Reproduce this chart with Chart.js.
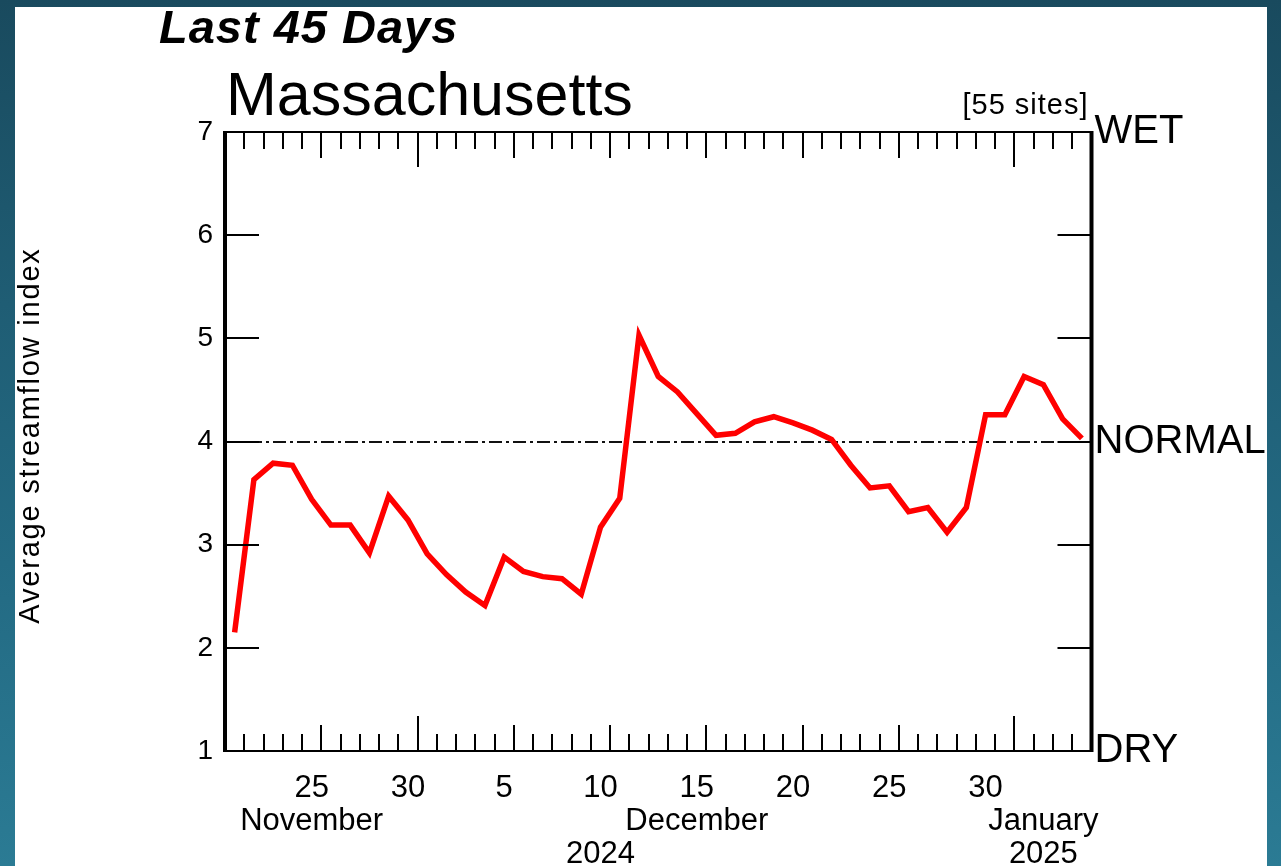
<!DOCTYPE html>
<html lang="en">
<head>
  <meta charset="UTF-8">
  <title>Last 45 Days - Massachusetts streamflow</title>
  <script src="https://cdn.jsdelivr.net/npm/chart.js"></script>
  <style>
    html, body {
      margin: 0;
      width: 1281px;
      height: 866px;
      overflow: hidden;
      background: linear-gradient(to bottom, #194a5e 0%, #1f5d74 35%, #236a83 65%, #2b7b94 100%);
    }
    #panel {
      position: absolute;
      left: 15px;
      top: 7px;
      width: 1252px;
      height: 859px;
      background: #fff;
    }
    #streamChart {
      position: absolute;
      left: 0;
      top: 0;
    }
  </style>
</head>
<body>
  <div id="panel"></div>
  <canvas id="streamChart" width="1281" height="866"></canvas>

  <script>
    // one value per day, 21 Nov 2024 -> 4 Jan 2025
    const dates = [
      'Nov 21', 'Nov 22', 'Nov 23', 'Nov 24', 'Nov 25', 'Nov 26', 'Nov 27', 'Nov 28', 'Nov 29', 'Nov 30',
      'Dec 1', 'Dec 2', 'Dec 3', 'Dec 4', 'Dec 5', 'Dec 6', 'Dec 7', 'Dec 8', 'Dec 9', 'Dec 10',
      'Dec 11', 'Dec 12', 'Dec 13', 'Dec 14', 'Dec 15', 'Dec 16', 'Dec 17', 'Dec 18', 'Dec 19', 'Dec 20',
      'Dec 21', 'Dec 22', 'Dec 23', 'Dec 24', 'Dec 25', 'Dec 26', 'Dec 27', 'Dec 28', 'Dec 29', 'Dec 30',
      'Dec 31', 'Jan 1', 'Jan 2', 'Jan 3', 'Jan 4'
    ];
    const streamflowIndex = [
      2.15, 3.63, 3.79, 3.77, 3.44, 3.19, 3.19, 2.92, 3.47, 3.24,
      2.91, 2.71, 2.54, 2.41, 2.88, 2.74, 2.69, 2.67, 2.52, 3.17,
      3.45, 5.03, 4.63, 4.48, 4.27, 4.06, 4.08, 4.19, 4.24, 4.18,
      4.11, 4.02, 3.77, 3.55, 3.57, 3.32, 3.36, 3.12, 3.36, 4.26,
      4.26, 4.63, 4.55, 4.22, 4.03
    ];

    // extra lines under the day numbers
    const monthLabels = { 'Nov 25': 'November', 'Dec 15': 'December', 'Jan 2': 'January' };
    const yearLabels = { 'Dec 10': '2024', 'Jan 2': '2025' };

    // right hand axis
    const sideLevels = [1, 4, 7];
    const sideLabels = ['DRY', 'NORMAL', 'WET'];
    const normalLevel = 4;

    const titleText = 'Last 45 Days';
    const stateName = 'Massachusetts';
    const siteCount = '[55 sites]';
    const yTitle = 'Average streamflow index';

    const FONT = "'Liberation Sans', Arial, Helvetica, sans-serif";
    Chart.defaults.font.family = FONT;
    Chart.defaults.color = '#000';

    function dayOf(label) {
      return parseInt(label.split(' ')[1], 10);
    }

    // frame, inward ticks, normal line and header texts
    const framePlugin = {
      id: 'frame',
      beforeDatasetsDraw(chart) {
        const { ctx, chartArea: a, scales } = chart;
        const yn = Math.round(scales.y.getPixelForValue(normalLevel));
        ctx.save();
        ctx.strokeStyle = '#111';
        ctx.lineWidth = 2;
        ctx.setLineDash([13, 4, 3, 4]);
        ctx.beginPath();
        ctx.moveTo(a.left, yn);
        ctx.lineTo(a.right, yn);
        ctx.stroke();
        ctx.restore();
      },
      afterDatasetsDraw(chart) {
        const { ctx, chartArea: a, scales } = chart;
        const x = scales.x, y = scales.y;
        ctx.save();
        ctx.strokeStyle = '#000';
        ctx.lineWidth = 2;

        // day boundaries along top and bottom
        const band = x.getPixelForValue(1) - x.getPixelForValue(0);
        const x0 = x.getPixelForValue(0) - band / 2;
        ctx.beginPath();
        for (let k = 1; k < dates.length; k++) {
          const bx = Math.round(x0 + k * band);
          const prev = dayOf(dates[k - 1]);
          let len = 17;
          if (dayOf(dates[k]) === 1) len = 35;
          else if (prev % 5 === 0 && prev < 30) len = 26;
          ctx.moveTo(bx, a.top);
          ctx.lineTo(bx, a.top + len);
          ctx.moveTo(bx, a.bottom);
          ctx.lineTo(bx, a.bottom - len);
        }
        // integer ticks on both sides
        y.ticks.forEach(t => {
          if (t.value <= y.min || t.value >= y.max) return;
          const py = Math.round(y.getPixelForValue(t.value));
          ctx.moveTo(a.left, py);
          ctx.lineTo(a.left + 34, py);
          ctx.moveTo(a.right - 34, py);
          ctx.lineTo(a.right, py);
        });
        ctx.stroke();

        // box
        ctx.beginPath();
        ctx.moveTo(a.left, a.top);
        ctx.lineTo(a.right, a.top);
        ctx.moveTo(a.left, a.bottom);
        ctx.lineTo(a.right, a.bottom);
        ctx.stroke();
        ctx.lineWidth = 4;
        ctx.beginPath();
        ctx.moveTo(a.left, a.top - 1);
        ctx.lineTo(a.left, a.bottom + 1);
        ctx.moveTo(a.right, a.top - 1);
        ctx.lineTo(a.right, a.bottom + 1);
        ctx.stroke();
        ctx.restore();
      },
      afterDraw(chart) {
        const { ctx, chartArea: a } = chart;
        ctx.save();
        ctx.fillStyle = '#000';
        ctx.textBaseline = 'alphabetic';

        ctx.font = 'italic bold 47px ' + FONT;
        ctx.letterSpacing = '1px';
        ctx.textAlign = 'left';
        ctx.fillText(titleText, 159, 43);

        ctx.letterSpacing = '0px';
        ctx.font = '61px ' + FONT;
        ctx.fillText(stateName, a.left + 1, 115);

        ctx.font = '29px ' + FONT;
        ctx.letterSpacing = '1px';
        ctx.textAlign = 'right';
        ctx.fillText(siteCount, a.right - 3, 114);

        // rotated axis title
        ctx.translate(39, (a.top + a.bottom) / 2 - 6);
        ctx.rotate(-Math.PI / 2);
        ctx.font = '29px ' + FONT;
        ctx.letterSpacing = '1.8px';
        ctx.textAlign = 'center';
        ctx.fillText(yTitle, 0, 0);
        ctx.restore();
      }
    };

    const ctx = document.getElementById('streamChart').getContext('2d');
    const streamChart = new Chart(ctx, {
      type: 'line',
      data: {
        labels: dates,
        datasets: [{
          label: 'Average streamflow index',
          data: streamflowIndex,
          borderColor: '#ff0000',
          borderWidth: 5.5,
          pointRadius: 0,
          tension: 0,
          fill: false
        }]
      },
      options: {
        responsive: false,
        animation: false,
        layout: { padding: { left: 13, top: 132, right: 0, bottom: 0 } },
        plugins: {
          legend: { display: false },
          tooltip: { enabled: false }
        },
        scales: {
          x: {
            offset: true,
            grid: { display: false, drawTicks: false },
            border: { display: false },
            ticks: {
              autoSkip: false,
              maxRotation: 0,
              padding: 21,
              font: { size: 31, lineHeight: 1.07 },
              callback: (value, index) => {
                const d = dates[index];
                const day = dayOf(d);
                const lines = [day % 5 === 0 ? String(day) : '', monthLabels[d] || '', yearLabels[d] || ''];
                while (lines.length && lines[lines.length - 1] === '') lines.pop();
                return lines.length ? lines : '';
              }
            },
            afterFit: s => { s.height = 115; }
          },
          y: {
            min: 1,
            max: 7,
            grid: { display: false, drawTicks: false },
            border: { display: false },
            ticks: { stepSize: 1, padding: 12, font: { size: 28 } },
            afterFit: s => { s.width = 212; }
          },
          y2: {
            position: 'right',
            min: 1,
            max: 7,
            grid: { display: false, drawTicks: false },
            border: { display: false },
            afterBuildTicks: s => { s.ticks = sideLevels.map(v => ({ value: v })); },
            ticks: {
              padding: 3,
              font: { size: 40 },
              callback: v => sideLabels[sideLevels.indexOf(v)]
            },
            afterFit: s => { s.width = 189.5; }
          }
        }
      },
      plugins: [framePlugin]
    });
  </script>
</body>
</html>
